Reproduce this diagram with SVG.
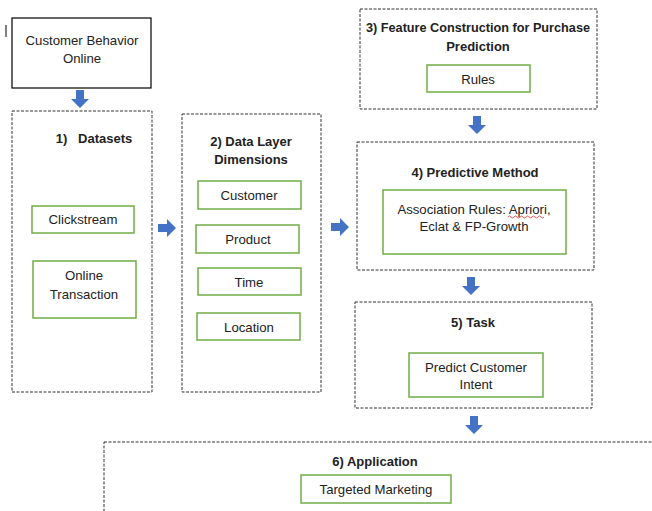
<svg xmlns="http://www.w3.org/2000/svg" width="652" height="511" viewBox="0 0 652 511">
<defs>
<style>
.dash{fill:#fff;stroke:#333;stroke-width:1;stroke-dasharray:3,1.5}
.solid{fill:#fff;stroke:#000;stroke-width:1.2}
.green{fill:#fff;stroke:#70AD47;stroke-width:1.5}
.t{font-family:"Liberation Sans",Arial,sans-serif;font-size:13.2px;fill:#222;text-anchor:middle}
.b{font-family:"Liberation Sans",Arial,sans-serif;font-size:13px;font-weight:bold;fill:#222;text-anchor:middle}
.arr{fill:#4472C4}
</style>
<path id="ad" d="M-4,0 H4 V9 H9 L0,18 L-9,9 H-4 Z"/>
<path id="ar" d="M0,-4 V4 H9 V9 L18,0 L9,-9 V-4 Z"/>
</defs>
<rect width="652" height="511" fill="#fff"/>
<line x1="6" y1="25" x2="6" y2="37" stroke="#000" stroke-width="1"/>

<g id="n0">
<rect class="solid" x="12" y="18" width="139" height="70"/>
<text class="t" x="82" y="45">Customer Behavior</text>
<text class="t" x="82" y="63">Online</text>
</g>

<g id="n1">
<rect class="dash" x="12" y="111" width="140" height="281"/>
<text class="b" x="94" y="143" xml:space="preserve">1)   Datasets</text>
<g id="n1a"><rect class="green" x="32" y="206" width="102" height="27"/>
<text class="t" x="83" y="224">Clickstream</text></g>
<g id="n1b"><rect class="green" x="33" y="261" width="103" height="57"/>
<text class="t" x="84" y="280">Online</text>
<text class="t" x="84" y="299">Transaction</text></g>
</g>

<g id="n2">
<rect class="dash" x="182" y="114" width="139" height="278"/>
<text class="b" x="251" y="146">2) Data Layer</text>
<text class="b" x="251" y="164">Dimensions</text>
<g id="n2a"><rect class="green" x="198" y="181" width="103" height="28"/>
<text class="t" x="249" y="200">Customer</text></g>
<g id="n2b"><rect class="green" x="196" y="225" width="103" height="28"/>
<text class="t" x="248" y="244">Product</text></g>
<g id="n2c"><rect class="green" x="198" y="268" width="103" height="27"/>
<text class="t" x="249" y="287">Time</text></g>
<g id="n2d"><rect class="green" x="197" y="313" width="103" height="27"/>
<text class="t" x="249" y="332">Location</text></g>
</g>

<g id="n3">
<rect class="dash" x="360" y="9" width="237" height="100"/>
<text class="b" x="478" y="32" textLength="224" lengthAdjust="spacingAndGlyphs">3) Feature Construction for Purchase</text>
<text class="b" x="478" y="51">Prediction</text>
<g id="n3a"><rect class="green" x="427" y="65" width="103" height="27"/>
<text class="t" x="478" y="84">Rules</text></g>
</g>

<g id="n4">
<rect class="dash" x="357" y="142" width="237" height="128"/>
<text class="b" x="475" y="177">4) Predictive Method</text>
<g id="n4a"><rect class="green" x="383" y="190" width="183" height="64"/>
<text class="t" x="474" y="214">Association Rules: Apriori,</text>
<text class="t" x="474" y="231">Eclat &amp; FP-Growth</text>
<path d="M508,217 q1.5,-2 3,0 t3,0 t3,0 t3,0 t3,0 t3,0 t3,0 t3,0 t3,0 t3,0 t3,0 t3,0" fill="none" stroke="#e03030" stroke-width="0.8"/></g>
</g>

<g id="n5">
<rect class="dash" x="355" y="302" width="237" height="106"/>
<text class="b" x="473" y="327">5) Task</text>
<g id="n5a"><rect class="green" x="409" y="353" width="134" height="44"/>
<text class="t" x="476" y="372">Predict Customer</text>
<text class="t" x="476" y="389">Intent</text></g>
</g>

<g id="n6">
<rect class="dash" x="104" y="442" width="560" height="80"/>
<text class="b" x="375" y="466">6) Application</text>
<g id="n6a"><rect class="green" x="301" y="475" width="150" height="28"/>
<text class="t" x="376" y="494">Targeted Marketing</text></g>
</g>

<g id="connectors" class="arr">
<use href="#ad" x="80" y="90"/>
<use href="#ar" x="158" y="228"/>
<use href="#ar" x="331" y="227"/>
<use href="#ad" x="477" y="116"/>
<use href="#ad" x="471" y="277"/>
<use href="#ad" x="474" y="416"/>
</g>
</svg>
